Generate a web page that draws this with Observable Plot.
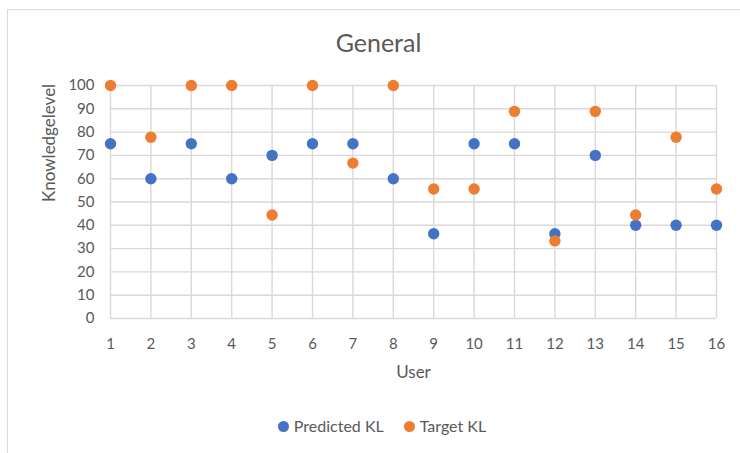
<!DOCTYPE html>
<html>
<head>
<meta charset="utf-8">
<script src="https://cdn.jsdelivr.net/npm/d3@7"></script>
<script src="https://cdn.jsdelivr.net/npm/@observablehq/plot@0.6"></script>
<style>
  html, body { margin: 0; padding: 0; background: #fff; }
  #chart {
    position: relative; width: 740px; height: 453px; overflow: hidden;
    font-family: Lato, "Open Sans", sans-serif; color: #595959;
  }
  #frame {
    position: absolute; left: 7px; top: 9px; width: 780px; height: 480px;
    border: 1px solid #d9d9d9; box-sizing: border-box;
  }
  #title {
    position: absolute; left: 7px; width: 743px; top: 30px;
    text-align: center; font-size: 25px; line-height: 25px; color: #595959;
  }
  #plot { position: absolute; left: 0; top: 60px; }
  #legend {
    position: absolute; left: 12px; width: 740px; top: 418px;
    display: flex; justify-content: center; align-items: center;
    font-size: 16px; line-height: 16px; color: #595959;
  }
  #legend .item { display: flex; align-items: center; margin: 0 10px; }
  #legend .sw { width: 11px; height: 11px; border-radius: 50%; margin-right: 5px; }
</style>
</head>
<body>
<div id="chart">
  <div id="frame"></div>
  <div id="title">General</div>
  <div id="plot"></div>
  <div id="legend"></div>
</div>
<script>
// Knowledge level per user: model prediction vs. target
const users = [1, 2, 3, 4, 5, 6, 7, 8, 9, 10, 11, 12, 13, 14, 15, 16];
const predictedKL = [75, 60, 75, 60, 70, 75, 75, 60, 36.4, 75, 75, 36.4, 70, 40, 40, 40];
const targetKL = [100, 77.8, 100, 100, 44.4, 100, 66.7, 100, 55.6, 55.6, 88.9, 33.3, 88.9, 44.4, 77.8, 55.6];
const yTicks = [0, 10, 20, 30, 40, 50, 60, 70, 80, 90, 100];

const seriesNames = ["Predicted KL", "Target KL"];
const seriesColors = ["#4472C4", "#ED7D31"];

const rows = [
  ...users.map((u, i) => ({user: u, kl: predictedKL[i], series: seriesNames[0]})),
  ...users.map((u, i) => ({user: u, kl: targetKL[i], series: seriesNames[1]}))
];

const textColor = "#595959";
const gridColor = "#d9d9d9";

const chart = Plot.plot({
  width: 740,
  height: 340,
  marginLeft: 110,
  marginRight: 24,
  marginTop: 25,
  marginBottom: 82,
  style: {fontFamily: "Lato, 'Open Sans', sans-serif", background: "transparent"},
  x: {domain: [1, 16]},
  y: {domain: [0, 100]},
  color: {domain: seriesNames, range: seriesColors},
  marks: [
    Plot.gridX(users, {stroke: gridColor, strokeOpacity: 1, strokeWidth: 1.4}),
    Plot.gridY(yTicks, {stroke: gridColor, strokeOpacity: 1, strokeWidth: 1.4}),
    Plot.axisX(users, {tickSize: 0, tickPadding: 20, fontSize: 15, fill: textColor, label: null}),
    Plot.axisY(yTicks, {tickSize: 0, tickPadding: 16, fontSize: 15, fill: textColor, label: null}),
    Plot.text(["User"], {frameAnchor: "bottom", lineAnchor: "middle", dy: 54, fontSize: 17, fill: textColor}),
    Plot.text(["Knowledgelevel"], {frameAnchor: "left", lineAnchor: "middle", dx: -61, rotate: -90, fontSize: 17, fill: textColor}),
    Plot.dot(rows, {x: "user", y: "kl", fill: "series", r: 5.7, stroke: "none"})
  ]
});
document.getElementById("plot").appendChild(chart);

// Legend below the plot
const legend = d3.select("#legend");
seriesNames.forEach((name, i) => {
  const item = legend.append("div").attr("class", "item");
  item.append("div").attr("class", "sw").style("background", seriesColors[i]);
  item.append("span").text(name);
});
</script>
</body>
</html>
